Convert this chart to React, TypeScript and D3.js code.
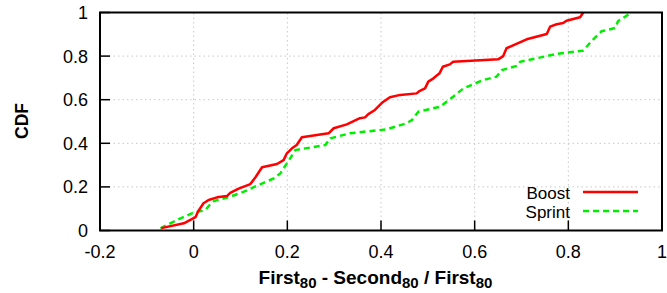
import React from "react";
import * as d3 from "d3";

const xTicks = [-0.2, 0, 0.2, 0.4, 0.6, 0.8, 1];
const yTicks = [0, 0.2, 0.4, 0.6, 0.8, 1];
const xTickLabels = ["-0.2", "0", "0.2", "0.4", "0.6", "0.8", "1"];
const yTickLabels = ["0", "0.2", "0.4", "0.6", "0.8", "1"];

const boostX = [-0.069, -0.021, -0.011, 0.004, 0.009, 0.021, 0.032, 0.05, 0.071, 0.078, 0.096, 0.121, 0.132, 0.146, 0.178, 0.192, 0.199, 0.21, 0.22, 0.231, 0.288, 0.299, 0.327, 0.355, 0.366, 0.373, 0.387, 0.402, 0.419, 0.441, 0.476, 0.483, 0.494, 0.501, 0.512, 0.525, 0.532, 0.547, 0.554, 0.65, 0.661, 0.668, 0.711, 0.754, 0.761, 0.775, 0.789, 0.796, 0.825, 0.832];
const boostY = [0.011, 0.033, 0.044, 0.061, 0.086, 0.125, 0.14, 0.152, 0.158, 0.173, 0.192, 0.213, 0.244, 0.29, 0.305, 0.323, 0.354, 0.377, 0.392, 0.428, 0.446, 0.469, 0.487, 0.515, 0.519, 0.534, 0.553, 0.586, 0.611, 0.622, 0.629, 0.641, 0.652, 0.683, 0.698, 0.721, 0.751, 0.762, 0.774, 0.785, 0.8, 0.836, 0.877, 0.901, 0.935, 0.946, 0.952, 0.962, 0.978, 1.0];

const sprintX = [-0.071, -0.028, 0.0, 0.025, 0.034, 0.043, 0.078, 0.107, 0.142, 0.171, 0.185, 0.199, 0.206, 0.217, 0.281, 0.292, 0.334, 0.412, 0.455, 0.466, 0.48, 0.526, 0.54, 0.554, 0.576, 0.618, 0.647, 0.658, 0.69, 0.697, 0.732, 0.775, 0.832, 0.849, 0.871, 0.9, 0.906, 0.935];
const sprintY = [0.01, 0.056, 0.082, 0.094, 0.117, 0.135, 0.155, 0.178, 0.212, 0.239, 0.262, 0.308, 0.331, 0.369, 0.392, 0.423, 0.446, 0.464, 0.492, 0.507, 0.545, 0.568, 0.591, 0.614, 0.652, 0.69, 0.706, 0.736, 0.755, 0.774, 0.79, 0.81, 0.825, 0.868, 0.914, 0.929, 0.96, 1.0];

const seriesNames = ["Boost", "Sprint"];

const W = 667;
const H = 293;
const L = 100;
const R = 662;
const T = 12.5;
const B = 230.5;

export default function App() {
  const x = d3.scaleLinear().domain([-0.2, 1]).range([L, R]);
  const y = d3.scaleLinear().domain([0, 1]).range([B, T]);
  const line = d3
    .line<[number, number]>()
    .x((d) => x(d[0]))
    .y((d) => y(d[1]));
  const boost = boostX.map((v, i) => [v, boostY[i]] as [number, number]);
  const sprint = sprintX.map((v, i) => [v, sprintY[i]] as [number, number]);
  const font = "'Liberation Sans', Arial, Helvetica, sans-serif";

  return (
    <svg
      width={W}
      height={H}
      style={{ position: "absolute", left: 0, top: 0, background: "#fff" }}
      fontFamily={font}
    >
      {/* grid */}
      {xTicks.slice(1, -1).map((t) => (
        <line key={"gx" + t} x1={x(t)} x2={x(t)} y1={B} y2={T} stroke="#c8c8c8" strokeWidth={1} strokeDasharray="1.5,3" />
      ))}
      {yTicks.slice(1, -1).map((t) => (
        <line key={"gy" + t} x1={L} x2={R} y1={y(t)} y2={y(t)} stroke="#c8c8c8" strokeWidth={1} strokeDasharray="1.5,3" />
      ))}
      {/* ticks */}
      {xTicks.map((t) => (
        <line key={"tx" + t} x1={x(t)} x2={x(t)} y1={B} y2={B - 10} stroke="#000" strokeWidth={1.5} />
      ))}
      {yTicks.map((t) => (
        <line key={"ty" + t} x1={L} x2={L + 10} y1={y(t)} y2={y(t)} stroke="#000" strokeWidth={1.5} />
      ))}
      {/* curves */}
      <path d={line(sprint) || ""} fill="none" stroke="#00ee00" strokeWidth={2.5} strokeDasharray="6,4" />
      <path d={line(boost) || ""} fill="none" stroke="#ff0000" strokeWidth={2.5} strokeLinejoin="round" />
      {/* frame */}
      <rect x={L} y={T} width={R - L} height={B - T} fill="none" stroke="#000" strokeWidth={2} />
      {/* tick labels */}
      {xTicks.map((t, i) => (
        <text key={"lx" + t} x={x(t)} y={258} fontSize={18} textAnchor="middle" fill="#000">
          {xTickLabels[i]}
        </text>
      ))}
      {yTicks.map((t, i) => (
        <text key={"ly" + t} x={88} y={y(t) + 6.4} fontSize={18} textAnchor="end" fill="#000">
          {yTickLabels[i]}
        </text>
      ))}
      {/* axis titles */}
      <text x={0} y={0} transform={`translate(27.5,121) rotate(-90)`} fontSize={17.5} fontWeight="bold" textAnchor="middle" fill="#000">
        CDF
      </text>
      <text x={375.5} y={283.5} fontSize={19} fontWeight="bold" textAnchor="middle" fill="#000">
        First<tspan fontSize={15} dy={4.5}>80</tspan>
        <tspan dy={-4.5}> - Second</tspan>
        <tspan fontSize={15} dy={4.5}>80</tspan>
        <tspan dy={-4.5}> / First</tspan>
        <tspan fontSize={15} dy={4.5}>80</tspan>
      </text>
      {/* legend */}
      <text x={570} y={198.5} fontSize={17} textAnchor="end" fill="#000">
        {seriesNames[0]}
      </text>
      <line x1={583} x2={638} y1={192} y2={192} stroke="#ff0000" strokeWidth={2.5} />
      <text x={570} y={217.5} fontSize={17} textAnchor="end" fill="#000">
        {seriesNames[1]}
      </text>
      <line x1={583} x2={638} y1={211} y2={211} stroke="#00ee00" strokeWidth={2.5} strokeDasharray="6,4" />
    </svg>
  );
}
